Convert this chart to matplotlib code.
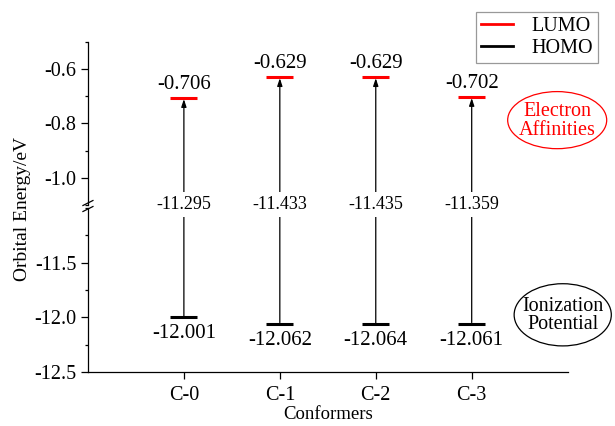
import matplotlib.pyplot as plt
from matplotlib.patches import Ellipse, ConnectionPatch
from matplotlib.lines import Line2D
from matplotlib.ticker import MultipleLocator
import matplotlib.transforms as mtransforms

plt.rcParams['font.family'] = ['Liberation Serif', 'DejaVu Serif']

# data
conformers = ['C-0', 'C-1', 'C-2', 'C-3']
lumo = [-0.706, -0.629, -0.629, -0.702]
homo = [-12.001, -12.062, -12.064, -12.061]
gap = [-11.295, -11.433, -11.435, -11.359]
xpos = [1, 2, 3, 4]

fig = plt.figure(figsize=(6.15, 4.26), dpi=100)
left, width = 0.143, 0.780
ax_top = fig.add_axes([left, 0.519, width, 0.383])
ax_bot = fig.add_axes([left, 0.127, width, 0.385])

ax_top.set_ylim(-1.1, -0.5)
ax_bot.set_ylim(-12.5, -11.0)
for ax in (ax_top, ax_bot):
    ax.set_xlim(0, 5)
    ax.spines['top'].set_visible(False)
    ax.spines['right'].set_visible(False)
    ax.spines['left'].set_linewidth(0.9)
    ax.spines['bottom'].set_linewidth(0.9)
    ax.tick_params(axis='both', direction='out', labelsize=14.5, width=0.9, length=5)
    ax.tick_params(axis='y', which='minor', direction='out', width=0.9, length=2.5)
    ax.patch.set_alpha(0)

ax_top.spines['bottom'].set_visible(False)
ax_top.set_xticks([])
ax_top.yaxis.set_minor_locator(MultipleLocator(0.1))
ax_top.set_yticks([-0.6, -0.8, -1.0])
ax_top.set_yticklabels(['-0.6', '-0.8', '-1.0'])

ax_bot.set_xticks(xpos)
ax_bot.set_xticklabels(conformers)
ax_bot.tick_params(axis='x', pad=5)
ax_bot.set_yticks([-11.5, -12.0, -12.5])
ax_bot.set_yticklabels(['-11.5', '-12.0', '-12.5'])
ax_bot.yaxis.set_minor_locator(MultipleLocator(0.25))
ax_bot.set_xlabel('Conformers', fontsize=13.5, labelpad=1)

fig.text(0.036, 0.51, 'Orbital Energy/eV', rotation=90, ha='center', va='center', fontsize=14)

hw = 0.14
for x, l, h, g in zip(xpos, lumo, homo, gap):
    ax_top.plot([x - hw, x + hw], [l, l], color='red', lw=2.2, solid_capstyle='butt')
    ax_bot.plot([x - hw, x + hw], [h, h], color='black', lw=2.2, solid_capstyle='butt')
    ax_top.annotate(f'{l:.3f}', (x, l), xytext=(0, 3), textcoords='offset points',
                    ha='center', va='bottom', fontsize=15)
    ax_bot.annotate(f'{h:.3f}', (x, h), xytext=(0, -5), textcoords='offset points',
                    ha='center', va='top', fontsize=15)
    con = ConnectionPatch(xyA=(x, h), coordsA=ax_bot.transData,
                          xyB=(x, l - 0.005), coordsB=ax_top.transData,
                          arrowstyle='-|>,head_length=0.45,head_width=0.15',
                          color='black', lw=0.9, shrinkA=1, shrinkB=0)
    fig.add_artist(con)
    trans = mtransforms.blended_transform_factory(ax_top.transData, fig.transFigure)
    fig.text(x, 0.52, f'{g:.3f}', transform=trans, ha='center', va='center',
             fontsize=13, bbox=dict(facecolor='white', edgecolor='none', pad=3))

# axis break marks
xs = left * 615
for yb in (203, 209):
    fig.add_artist(Line2D([(xs - 5) / 615, (xs + 5) / 615],
                          [1 - (yb + 2.5) / 426, 1 - (yb - 2.5) / 426],
                          color='black', lw=0.9))

# legend
handles = [Line2D([], [], color='red', lw=2), Line2D([], [], color='black', lw=2)]
leg = fig.legend(handles, ['LUMO', 'HOMO'], loc='upper right',
                 bbox_to_anchor=(0.972, 0.972), borderaxespad=0, fontsize=14.5,
                 fancybox=False, edgecolor='gray', handlelength=1.6, borderpad=0.25,
                 labelspacing=0.15, handletextpad=0.9)
leg.get_frame().set_linewidth(0.9)

# annotation ellipses
fig.add_artist(Ellipse((0.906, 0.718), 0.161, 0.134, transform=fig.transFigure,
                       fill=False, edgecolor='red', lw=0.9))
fig.text(0.906, 0.716, 'Electron\nAffinities', color='red', ha='center', va='center',
         fontsize=14.5, linespacing=0.95)
fig.add_artist(Ellipse((0.915, 0.261), 0.158, 0.146, transform=fig.transFigure,
                       fill=False, edgecolor='black', lw=0.9))
fig.text(0.915, 0.259, 'Ionization\nPotential', color='black', ha='center', va='center',
         fontsize=14.5, linespacing=0.95)

plt.savefig('out.png', dpi=100)
